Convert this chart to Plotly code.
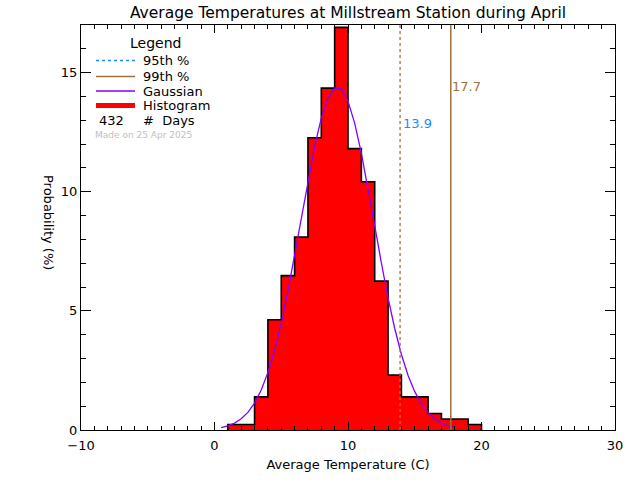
import plotly.graph_objects as go

# ---------------- data ----------------
bin_left = [1, 2, 3, 4, 5, 6, 7, 8, 9, 10, 11, 12, 13, 14, 15, 16, 17, 18, 19]
prob_pct = [0.23, 0.23, 1.39, 4.63, 6.48, 8.10, 12.27, 14.35, 16.90, 11.81,
            10.42, 6.25, 2.31, 1.39, 1.39, 0.69, 0.46, 0.46, 0.23]
bin_width = 1.0

gauss_x = [0.5, 1.0, 1.5, 2.0, 2.5, 3.0, 3.5, 4.0, 4.5, 5.0, 5.5, 6.0, 6.5, 7.0,
           7.5, 8.0, 8.5, 9.0, 9.5, 10.0, 10.5, 11.0, 11.5, 12.0, 12.5, 13.0,
           13.5, 14.0, 14.5, 15.0, 15.5, 16.0, 16.5, 17.0, 17.5, 18.0]
gauss_y = [0.10, 0.17, 0.29, 0.47, 0.74, 1.13, 1.68, 2.41, 3.34, 4.49, 5.83,
           7.32, 8.89, 10.46, 11.90, 13.09, 13.94, 14.36, 14.32, 13.80, 12.88,
           11.62, 10.15, 8.58, 7.01, 5.55, 4.26, 3.17, 2.29, 1.61, 1.10, 0.74,
           0.47, 0.29, 0.17, 0.10]

p95 = 13.9
p99 = 17.7
n_days = 432
made_on = "Made on 25 Apr 2025"
title = "Average Temperatures at Millstream Station during April"
x_label = "Average Temperature (C)"
y_label = "Probability (%)"
x_range = [-10, 30]
y_range = [0, 17]

# ---------------- figure ----------------
FONT = "DejaVu Sans"
W, H = 640, 480
PL, PR, PT, PB = 81, 615, 25, 430   # plot area in window pixels
L, T, R, B = PL, PT, W - PR, H - PB
PW, PH = PR - PL, PB - PT


def px(xp):
    return (xp - PL) / PW


def py(yp):
    return (PB - yp) / PH


fig = go.Figure()

centers = [b + bin_width / 2 for b in bin_left]
fig.add_trace(go.Bar(x=centers, y=prob_pct, width=bin_width,
                     marker=dict(color="#ff0000", line=dict(width=0)),
                     showlegend=False, hoverinfo="skip"))

# step outline of histogram
ox = [bin_left[0]] + bin_left + [bin_left[-1] + bin_width]
oy = [0] + prob_pct + [0]
fig.add_trace(go.Scatter(x=ox, y=oy, mode="lines", line_shape="hv",
                         line=dict(color="black", width=1.6),
                         showlegend=False, hoverinfo="skip"))

fig.add_trace(go.Scatter(x=gauss_x, y=gauss_y, mode="lines",
                         line=dict(color="#8000ff", width=1.3),
                         showlegend=False, hoverinfo="skip"))

fig.add_trace(go.Scatter(x=[p95, p95], y=y_range, mode="lines",
                         line=dict(color="#c06a20", width=1.3, dash="dot"),
                         showlegend=False, hoverinfo="skip"))
fig.add_trace(go.Scatter(x=[p99, p99], y=y_range, mode="lines",
                         line=dict(color="#a0703a", width=1.5),
                         showlegend=False, hoverinfo="skip"))

fig.add_annotation(x=p95, y=12.85, text=f"{p95:.1f}", showarrow=False,
                   xanchor="left", yanchor="middle", xshift=1,
                   font=dict(family=FONT, size=13, color="#1a8cff"))
fig.add_annotation(x=p99, y=14.4, text=f"{p99:.1f}", showarrow=False,
                   xanchor="left", yanchor="middle", xshift=-1,
                   font=dict(family=FONT, size=13, color="#a0703a"))

# ---------------- custom legend ----------------
fig.add_annotation(xref="paper", yref="paper", x=px(155), y=py(43), text="Legend",
                   showarrow=False, xanchor="center", yanchor="middle",
                   font=dict(family=FONT, size=14, color="black"))
rows = [
    (60.5, "95th %", dict(color="#1a8cff", width=1.3, dash="dot")),
    (76.5, "99th %", dict(color="#a0703a", width=1.5)),
    (91, "Gaussian", dict(color="#8000ff", width=1.3)),
    (105.5, "Histogram", dict(color="#ff0000", width=5)),
]
for yy, txt, ln in rows:
    fig.add_shape(type="line", xref="paper", yref="paper",
                  x0=px(96), x1=px(135), y0=py(yy), y1=py(yy), line=ln)
    fig.add_annotation(xref="paper", yref="paper", x=px(141), y=py(yy), text=txt,
                       showarrow=False, xanchor="left", yanchor="middle",
                       font=dict(family=FONT, size=13, color="black"))
fig.add_annotation(xref="paper", yref="paper", x=px(111), y=py(120.5), text=str(n_days),
                   showarrow=False, xanchor="center", yanchor="middle",
                   font=dict(family=FONT, size=13, color="black"))
fig.add_annotation(xref="paper", yref="paper", x=px(141), y=py(120.5), text="#  Days",
                   showarrow=False, xanchor="left", yanchor="middle",
                   font=dict(family=FONT, size=13, color="black"))
fig.add_annotation(xref="paper", yref="paper", x=px(93), y=py(134.5), text=made_on,
                   showarrow=False, xanchor="left", yanchor="middle",
                   font=dict(family=FONT, size=9, color="#c0c0c0"))

# y title rotated top-to-bottom
fig.add_annotation(xref="paper", yref="paper", x=px(48), y=py(222), text=y_label,
                   showarrow=False, textangle=90, xanchor="center", yanchor="middle",
                   font=dict(family=FONT, size=13, color="black"))

fig.update_layout(
    width=W, height=H,
    margin=dict(l=L, r=R, t=T, b=B, pad=0, autoexpand=False),
    paper_bgcolor="white", plot_bgcolor="white",
    bargap=0,
    font=dict(family=FONT, size=13, color="black"),
    title=dict(text=title, x=348 / W, xanchor="center",
               y=1 - 12.5 / H, yanchor="middle",
               font=dict(family=FONT, size=15.5, color="black")),
    showlegend=False,
)
fig.update_xaxes(range=x_range, tickmode="array", tickvals=[-10, 0, 10, 20, 30],
                 ticktext=["\u221210", "0", "10", "20", "30"],
                 ticks="inside", ticklen=8, tickwidth=1, tickcolor="black",
                 ticklabelstandoff=3,
                 minor=dict(dtick=1, ticks="inside", ticklen=4, tickwidth=1, tickcolor="black"),
                 showline=True, linecolor="black", linewidth=1, mirror="allticks",
                 showgrid=False, zeroline=False, automargin=False,
                 title=dict(text=x_label, standoff=8, font=dict(family=FONT, size=13)))
fig.update_yaxes(range=y_range, tickmode="array", tickvals=[0, 5, 10, 15],
                 ticks="inside", ticklen=10, tickwidth=1, tickcolor="black",
                 minor=dict(dtick=1, ticks="inside", ticklen=5, tickwidth=1, tickcolor="black"),
                 showline=True, linecolor="black", linewidth=1, mirror="allticks",
                 showgrid=False, zeroline=False, automargin=False)

fig.write_html("out.html", config={"displayModeBar": False},
               post_script="document.body.style.margin='0';document.body.style.overflow='hidden';")
